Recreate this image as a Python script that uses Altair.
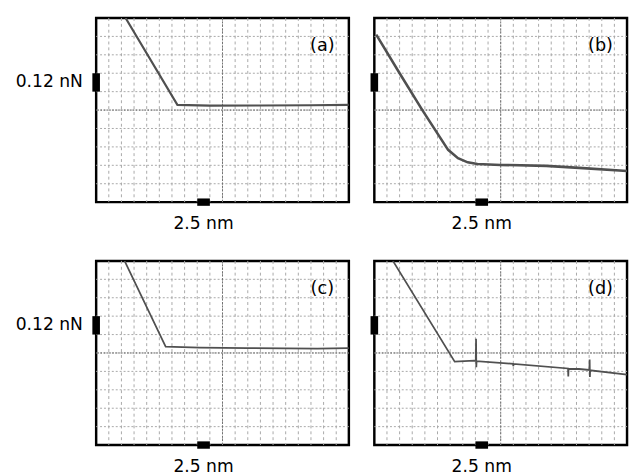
import altair as alt
import pandas as pd

# ---- data (grid divisions: x 0..20, y 0..10) ----
a_x = [2.33, 6.43, 9.0, 13.0, 17.0, 20.0]
a_y = [10.0, 5.28, 5.24, 5.25, 5.26, 5.28]

b_x = [0.15, 2.0, 3.8, 5.84, 6.62, 7.39, 8.16, 10.0, 13.6, 16.2, 20.0]
b_y = [9.10, 7.00, 5.00, 2.84, 2.39, 2.16, 2.07, 2.02, 1.97, 1.86, 1.69]

c_x = [2.25, 5.5, 8.2, 12.0, 17.5, 20.0]
c_y = [10.0, 5.34, 5.29, 5.27, 5.24, 5.27]

d_x = [1.47, 6.36, 7.9, 8.03, 8.05, 8.07, 8.09, 10.98, 11.0, 11.02, 15.33, 15.35, 15.37,
       16.2, 17.02, 17.04, 17.06, 17.08, 20.0]
d_y = [10.0, 4.53, 4.58, 4.57, 5.77, 4.23, 4.56, 4.41, 4.29, 4.41, 4.16, 3.72, 4.14,
       4.13, 4.08, 4.65, 3.70, 4.06, 3.83]

panel_labels = ["(a)", "(b)", "(c)", "(d)"]
force_label = "0.12 nN"
dist_label = "2.5 nm"

grid_x = list(range(1, 20))
grid_y = list(range(1, 10))
center_x = [10]
center_y = [5]

XDOM = [0, 20]
YDOM = [0, 10]
W, H = 258, 188
FONT = "DejaVu Sans"
FS = 17.5

xs = alt.Scale(domain=XDOM, nice=False, zero=False)
ys = alt.Scale(domain=YDOM, nice=False, zero=False)


def panel(xv, yv, label, show_force, lw, h):
    df = pd.DataFrame({"x": xv, "y": yv, "i": list(range(len(xv)))})
    gx = alt.Chart(pd.DataFrame({"g": grid_x})).mark_rule(
        color="#a8a8a8", strokeWidth=1, strokeDash=[3, 3]
    ).encode(x=alt.X("g:Q", scale=xs, axis=None))
    gy = alt.Chart(pd.DataFrame({"g": grid_y})).mark_rule(
        color="#a8a8a8", strokeWidth=1, strokeDash=[2, 2]
    ).encode(y=alt.Y("g:Q", scale=ys, axis=None))
    cx = alt.Chart(pd.DataFrame({"g": center_x})).mark_rule(
        color="#707070", strokeWidth=1, strokeDash=[2, 1.5]
    ).encode(x=alt.X("g:Q", scale=xs, axis=None))
    cy = alt.Chart(pd.DataFrame({"g": center_y})).mark_rule(
        color="#555555", strokeWidth=1, strokeDash=[1.5, 1.5]
    ).encode(y=alt.Y("g:Q", scale=ys, axis=None))
    line = alt.Chart(df).mark_line(color="#505050", strokeWidth=lw, clip=True).encode(
        x=alt.X("x:Q", scale=xs, axis=None),
        y=alt.Y("y:Q", scale=ys, axis=None),
        order="i:Q",
    )
    mk_left = alt.Chart(pd.DataFrame({"x": [-0.3], "x2": [0.3], "y": [6.0], "y2": [7.0]})).mark_rect(
        color="black"
    ).encode(
        x=alt.X("x:Q", scale=xs, axis=None), x2="x2:Q",
        y=alt.Y("y:Q", scale=ys, axis=None), y2="y2:Q",
    )
    mk_bot = alt.Chart(pd.DataFrame({"x": [8.0], "x2": [9.0], "y": [-0.2], "y2": [0.2]})).mark_rect(
        color="black"
    ).encode(
        x=alt.X("x:Q", scale=xs, axis=None), x2="x2:Q",
        y=alt.Y("y:Q", scale=ys, axis=None), y2="y2:Q",
    )
    lab = alt.Chart(pd.DataFrame({"x": [17.9], "y": [8.46], "t": [label]})).mark_text(
        font=FONT, fontSize=FS + 0.5, color="black", align="center", baseline="middle"
    ).encode(x=alt.X("x:Q", scale=xs, axis=None), y=alt.Y("y:Q", scale=ys, axis=None), text="t:N")
    dist = alt.Chart(pd.DataFrame({"x": [8.5], "y": [0.0], "t": [dist_label]})).mark_text(
        font=FONT, fontSize=FS, color="black", align="center", baseline="middle", dy=22
    ).encode(x=alt.X("x:Q", scale=xs, axis=None), y=alt.Y("y:Q", scale=ys, axis=None), text="t:N")
    layers = [gx, gy, cx, cy, line, mk_left, mk_bot, lab, dist]
    if show_force:
        force = alt.Chart(pd.DataFrame({"x": [0.0], "y": [6.5], "t": [force_label]})).mark_text(
            font=FONT, fontSize=FS, color="black", align="right", baseline="middle", dx=-13.5
        ).encode(x=alt.X("x:Q", scale=xs, axis=None), y=alt.Y("y:Q", scale=ys, axis=None), text="t:N")
        layers.append(force)
    return alt.layer(*layers).properties(width=W, height=h)


pa = panel(a_x, a_y, panel_labels[0], True, 2.2, H)
pb = panel(b_x, b_y, panel_labels[1], False, 2.6, H)
pc = panel(c_x, c_y, panel_labels[2], True, 1.8, H)
pd_ = panel(d_x, d_y, panel_labels[3], False, 1.8, H)

row1 = alt.hconcat(pa, pb, spacing=26, bounds="flush")
row2 = alt.hconcat(pc, pd_, spacing=26, bounds="flush")
chart = alt.vconcat(row1, row2, spacing=26).properties(
    padding={"left": 6, "top": 3.25, "right": 0, "bottom": 0}, background="white"
).configure_view(stroke="black", strokeWidth=2.5)

chart.save("out.html", embed_options={"renderer": "svg", "actions": False})
